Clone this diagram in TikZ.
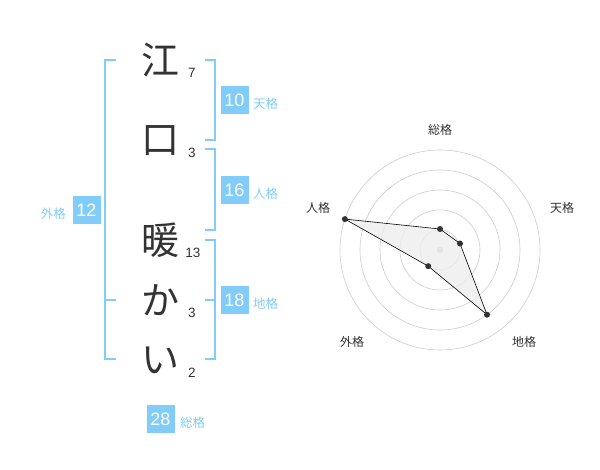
\documentclass[tikz,border=0pt]{standalone}
\usepackage{fontspec}
\setmainfont{Liberation Sans}
\newfontfamily\jp{Noto Sans CJK JP}
\usetikzlibrary{positioning,calc}
\definecolor{kaku}{RGB}{130,204,250}
\definecolor{moji}{RGB}{51,51,51}

\begin{document}
\begin{tikzpicture}[x=1pt,y=-1pt,
            kanji/.style={font=\jp\fontsize{38}{38}\selectfont,text=moji,inner sep=0},
            strokes/.style={font=\fontsize{13.5}{13.5}\selectfont,text=moji,inner sep=0},
            score/.style={fill=kaku,text=white,minimum size=28,inner sep=0,font=\fontsize{18}{18}\selectfont},
            kakulab/.style={font=\jp\fontsize{12.5}{12.5}\selectfont,text=kaku,inner sep=0},
            bracket/.style={draw=kaku,line width=2},
            ring/.style={draw=black!20,line width=0.6},
            axislab/.style={font=\jp\fontsize{12}{12}\selectfont,text=moji,inner sep=0},
            dot/.style={circle,fill=moji,minimum size=6,inner sep=0}
          ]
          \useasboundingbox (0,0) rectangle (600,470);

          %name
          \node[kanji] (k1) at (160,60) {江};
          \node[kanji] (k2) at (160,141) {口};
          \node[kanji] (k3) at (160,240) {暖};
          \node[kanji] (k4) at (160,300) {か};
          \node[kanji] (k5) at (160,360) {い};

          %strokes
          \node[strokes] (s1) at (192,73) {7};
          \node[strokes] (s2) at (192,153) {3};
          \node[strokes] (s3) at (193,253) {13};
          \node[strokes] (s4) at (192,313) {3};
          \node[strokes] (s5) at (192,373) {2};

          %brackets
          \draw[bracket] (205,60) -- (215,60) -- (215,140) -- (205,140);
          \draw[bracket] (205,149) -- (215,149) -- (215,230) -- (205,230);
          \draw[bracket] (205,240) -- (215,240) -- (215,359) -- (205,359);
          \draw[bracket] (205,300) -- (215,300);
          \draw[bracket] (116,60) -- (105,60) -- (105,359) -- (116,359);
          \draw[bracket] (105,300) -- (116,300);

          %scores
          \node[score] (ten) at (234.5,100) {10};
          \node[score] (jin) at (234.5,190) {16};
          \node[score] (chi) at (234.5,300) {18};
          \node[score] (gai) at (86.5,210) {12};
          \node[score] (sou) at (160.5,419) {28};
          \node[kakulab,anchor=west] at (253,104) {天格};
          \node[kakulab,anchor=west] at (253,194) {人格};
          \node[kakulab,anchor=west] at (253,304) {地格};
          \node[kakulab,anchor=east] at (66,214) {外格};
          \node[kakulab,anchor=west] at (180,423) {総格};

          %radar
          \coordinate (c) at (440,250);
          \foreach \r in {20,40,60,80,100}
            \draw[ring] (c) circle[radius=\r pt];
          \fill[black!22] (c) circle[radius=3.3pt];

          \coordinate (p1) at ($(c)+(-90:21)$);
          \coordinate (p2) at ($(c)+(-18:21)$);
          \coordinate (p3) at ($(c)+(54:80)$);
          \coordinate (p4) at ($(c)+(126:20)$);
          \coordinate (p5) at ($(c)+(198:100)$);
          \draw[fill=black!7,fill opacity=0.8,line width=0.6] (p1) -- (p2) -- (p3) -- (p4) -- (p5) -- cycle;
          \foreach \p in {p1,p2,p3,p4,p5}
            \node[dot] at (\p) {};

          \node[axislab] (l1) at (440,130) {総格};
          \node[axislab] (l2) at (562,208) {天格};
          \node[axislab] (l3) at (524,342) {地格};
          \node[axislab] (l4) at (352,342) {外格};
          \node[axislab] (l5) at (318,208) {人格};

      \end{tikzpicture}
\end{document}
